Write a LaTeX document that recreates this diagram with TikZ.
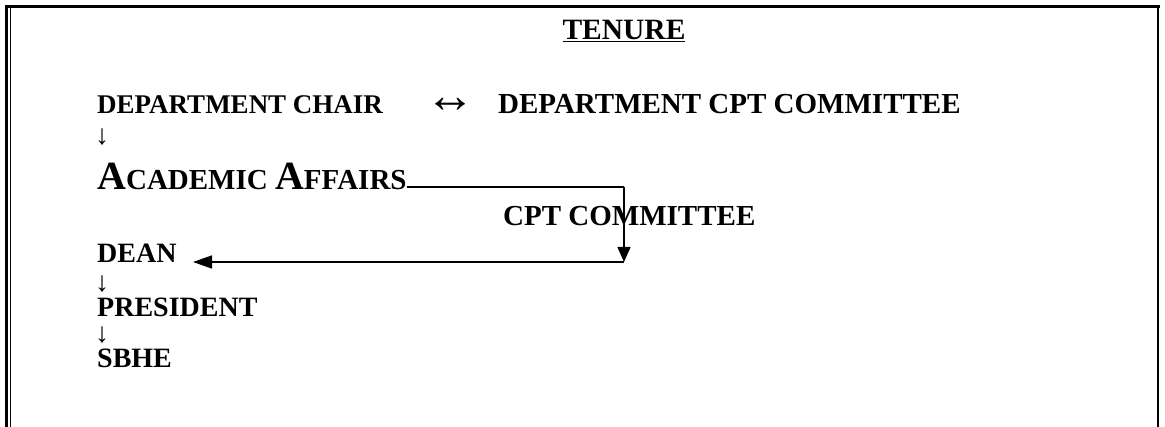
\documentclass[tikz,border=0pt]{standalone}
\usepackage{fontspec}
\setmainfont{Liberation Serif}
\usetikzlibrary{arrows.meta}
\tikzset{
  lbl/.style={anchor=base west, inner sep=0pt, font=\bfseries\fontsize{28}{28}\selectfont},
  sym/.style={anchor=center, inner sep=0pt, font=\fontsize{28}{28}\selectfont},
  flow/.style={line width=1.5pt, -{Triangle[length=19pt,width=13pt]}},
}
\newcommand{\bigsc}[1]{{\fontsize{40}{40}\selectfont #1}}
\begin{document}
\begin{tikzpicture}[x=1pt,y=-1pt]
  \useasboundingbox (0,0) rectangle (1165,427);
  % frame
  \draw[line width=3pt] (5,6.5) -- (1160,6.5);
  \draw[line width=2.5pt] (6.3,5) -- (6.3,427);
  \draw[line width=1.2pt] (10.4,8) -- (10.4,427);
  \draw[line width=2pt] (1158,5) -- (1158,427);
  % texts
  \node[lbl, anchor=base, font=\bfseries\fontsize{29.5}{29.5}\selectfont] (title) at (624,40) {\underline{TENURE}};
  \node[lbl, font=\bfseries\fontsize{27}{27}\selectfont] (chair) at (97,114) {DEPARTMENT CHAIR};
  \node[sym, font=\fontsize{50}{50}\selectfont] (both) at (450,105) {↔};
  \node[lbl, font=\bfseries\fontsize{29}{29}\selectfont] (dcpt) at (498,114) {DEPARTMENT CPT COMMITTEE};
  \node[sym] (d1) at (102,137) {↓};
  \node[lbl, font=\bfseries\fontsize{29}{29}\selectfont] (acad) at (97,190) {\bigsc{A}CADEMIC \bigsc{A}FFAIRS};
  \node[lbl, font=\bfseries\fontsize{29}{29}\selectfont] (cpt) at (503,226) {CPT COMMITTEE};
  \node[lbl] (dean) at (97,263) {DEAN};
  \node[sym] (d2) at (102,284) {↓};
  \node[lbl] (pres) at (97,317) {PRESIDENT};
  \node[sym] (d3) at (102,335) {↓};
  \node[lbl] (sbhe) at (97,368) {SBHE};
  % connectors
  \coordinate (turn) at (624,187);
  \coordinate (drop) at (624,262);
  \coordinate (tip) at (193,262);
  \draw[line width=1.5pt] (acad.base east) ++(0,-3) coordinate (start) -- (turn);
  \draw[flow, -{Triangle[length=15pt,width=13pt]}] (turn) -- (drop);
  \draw[flow] (drop) -- (tip);
\end{tikzpicture}
\end{document}
